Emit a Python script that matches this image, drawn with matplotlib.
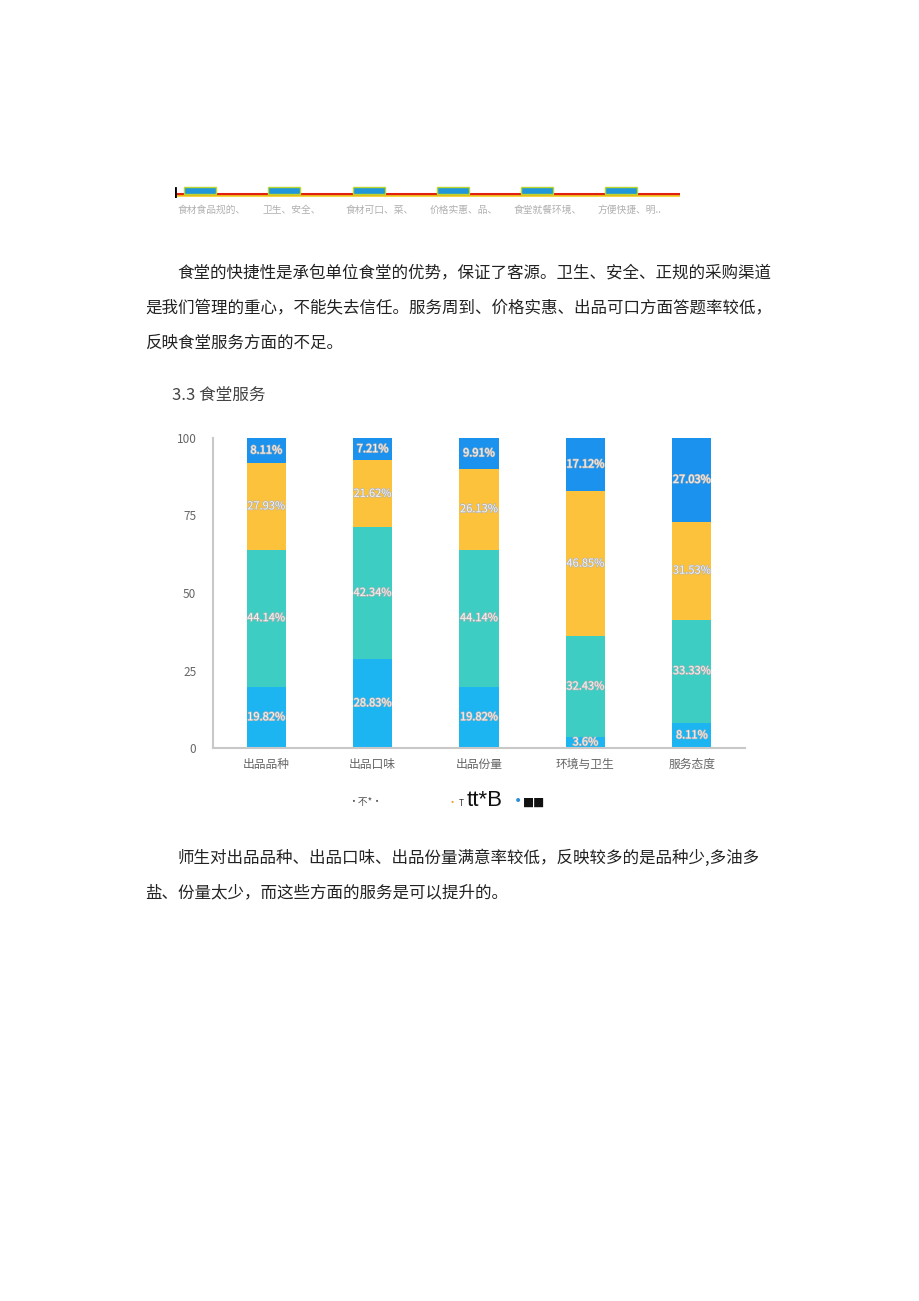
import matplotlib
matplotlib.use("Agg")
import matplotlib.pyplot as plt
import matplotlib.patheffects as pe
import numpy as np

plt.rcParams['font.family'] = ['Noto Sans CJK SC', 'DejaVu Sans']

# ---- data ----
categories = ["出品品种", "出品口味", "出品份量", "环境与卫生", "服务态度"]
seg1 = [19.82, 28.83, 19.82, 3.6, 8.11]     # bottom (light blue)
seg2 = [44.14, 42.34, 44.14, 32.43, 33.33]  # teal
seg3 = [27.93, 21.62, 26.13, 46.85, 31.53]  # yellow
seg4 = [8.11, 7.21, 9.91, 17.12, 27.03]     # top (blue)
seg_labels = [
    ["19.82%", "28.83%", "19.82%", "3.6%", "8.11%"],
    ["44.14%", "42.34%", "44.14%", "32.43%", "33.33%"],
    ["27.93%", "21.62%", "26.13%", "46.85%", "31.53%"],
    ["8.11%", "7.21%", "9.91%", "17.12%", "27.03%"],
]
yticks = [0, 25, 50, 75, 100]
seg_colors = ["#1cb5f2", "#3dcdc2", "#fcc23c", "#1a92ee"]

# previous chart strip (cut off at top of page)
strip_bars = [1, 1, 1, 1, 1, 1]
strip_labels = ["食材食品规的、", "卫生、安全、", "食材可口、菜、", "价格实惠、品、", "食堂就餐环境、", "方便快捷、明.."]

W, H = 920, 1301
fig = plt.figure(figsize=(W / 100, H / 100), dpi=100)
fig.patch.set_facecolor("white")

def fx(x):
    return x / W

def fy(y):
    return 1 - y / H

# ---- strip of previous chart ----
ax0 = fig.add_axes([fx(175), fy(198), fx(680 - 175), (198 - 186) / H])
ax0.set_xlim(-0.5, 5.5)
ax0.set_ylim(0, 1)
ax0.axis("off")
xs0 = np.arange(len(strip_bars)) - 0.2
ax0.bar(xs0, [0.62] * len(strip_bars), width=0.38, bottom=0.33, color="#2196d8",
        edgecolor="#b8d830", linewidth=1.0, zorder=2)
ax0.axhline(0.33, color="#e02010", lw=2.2, zorder=1)
ax0.axhline(0.16, color="#f0d020", lw=1.2, zorder=1)
ax0.plot([-0.5, -0.5], [0.05, 0.85], color="black", lw=2)
for i, lab in enumerate(strip_labels):
    fig.text(fx(178 + i * 84), fy(210), lab, fontsize=7, color="#b0b0b0",
             ha="left", va="center")

# ---- paragraph 1 ----
fs = 11.9
fig.text(fx(177), fy(273), "食堂的快捷性是承包单位食堂的优势，保证了客源。卫生、安全、正规的采购渠道",
         fontsize=fs, color="#222222", ha="left", va="center")
fig.text(fx(145), fy(308), "是我们管理的重心，不能失去信任。服务周到、价格实惠、出品可口方面答题率较低，",
         fontsize=fs, color="#222222", ha="left", va="center")
fig.text(fx(145), fy(343), "反映食堂服务方面的不足。",
         fontsize=fs, color="#222222", ha="left", va="center")

fig.text(fx(172), fy(395), "3.3 食堂服务", fontsize=12, color="#444444",
         ha="left", va="center")

# ---- main chart ----
ax = fig.add_axes([fx(213), fy(748), fx(745 - 213), (748 - 438) / H])
x = np.arange(len(categories))
bw = 0.37
bottoms = np.zeros(len(categories))
for seg, col, labs in zip([seg1, seg2, seg3, seg4], seg_colors, seg_labels):
    seg = np.array(seg)
    ax.bar(x, seg, bottom=bottoms, width=bw, color=col, edgecolor="none")
    for xi, b, v, lab in zip(x, bottoms, seg, labs):
        ax.text(xi, b + v / 2, lab, ha="center", va="center", fontsize=8,
                color="#f4f4f4",
                path_effects=[pe.withStroke(linewidth=1.0, foreground="#b4b4b4")])
    bottoms += seg

ax.set_xlim(-0.5, 4.5)
ax.set_ylim(0, 100)
ax.set_yticks(yticks)
ax.set_yticklabels([str(t) for t in yticks])
ax.set_xticks(x)
ax.set_xticklabels(categories)
ax.tick_params(axis="both", length=0, colors="#666666", labelsize=8.5)
ax.tick_params(axis="y", pad=12)
ax.tick_params(axis="x", pad=7)
for s in ["top", "right"]:
    ax.spines[s].set_visible(False)
for s in ["left", "bottom"]:
    ax.spines[s].set_color("#c8c8c8")
    ax.spines[s].set_linewidth(1.5)

# ---- garbled legend row ----
fig.text(fx(348), fy(802), "·不*·", fontsize=7, color="#555555", ha="left", va="center")
fig.text(fx(447), fy(803), "·", fontsize=8, color="#f0a030", ha="left", va="center")
fig.text(fx(459), fy(804), "T", fontsize=6, color="#333333", ha="left", va="center")
fig.text(fx(467), fy(801), "tt*B", fontsize=16, color="#111111", ha="left", va="center",
         family=["Liberation Sans", "DejaVu Sans"])
fig.text(fx(514), fy(801), "•", fontsize=10, color="#2a90d8", ha="left", va="center",
         family=["DejaVu Sans"])
fig.text(fx(523), fy(802), "■■", fontsize=8.5, color="#111111", ha="left", va="center",
         family=["DejaVu Sans"])

# ---- paragraph 2 ----
fig.text(fx(177), fy(858), "师生对出品品种、出品口味、出品份量满意率较低，反映较多的是品种少,多油多",
         fontsize=fs, color="#222222", ha="left", va="center")
fig.text(fx(145), fy(893), "盐、份量太少，而这些方面的服务是可以提升的。",
         fontsize=fs, color="#222222", ha="left", va="center")

fig.savefig("out.png", dpi=100, facecolor="white")
